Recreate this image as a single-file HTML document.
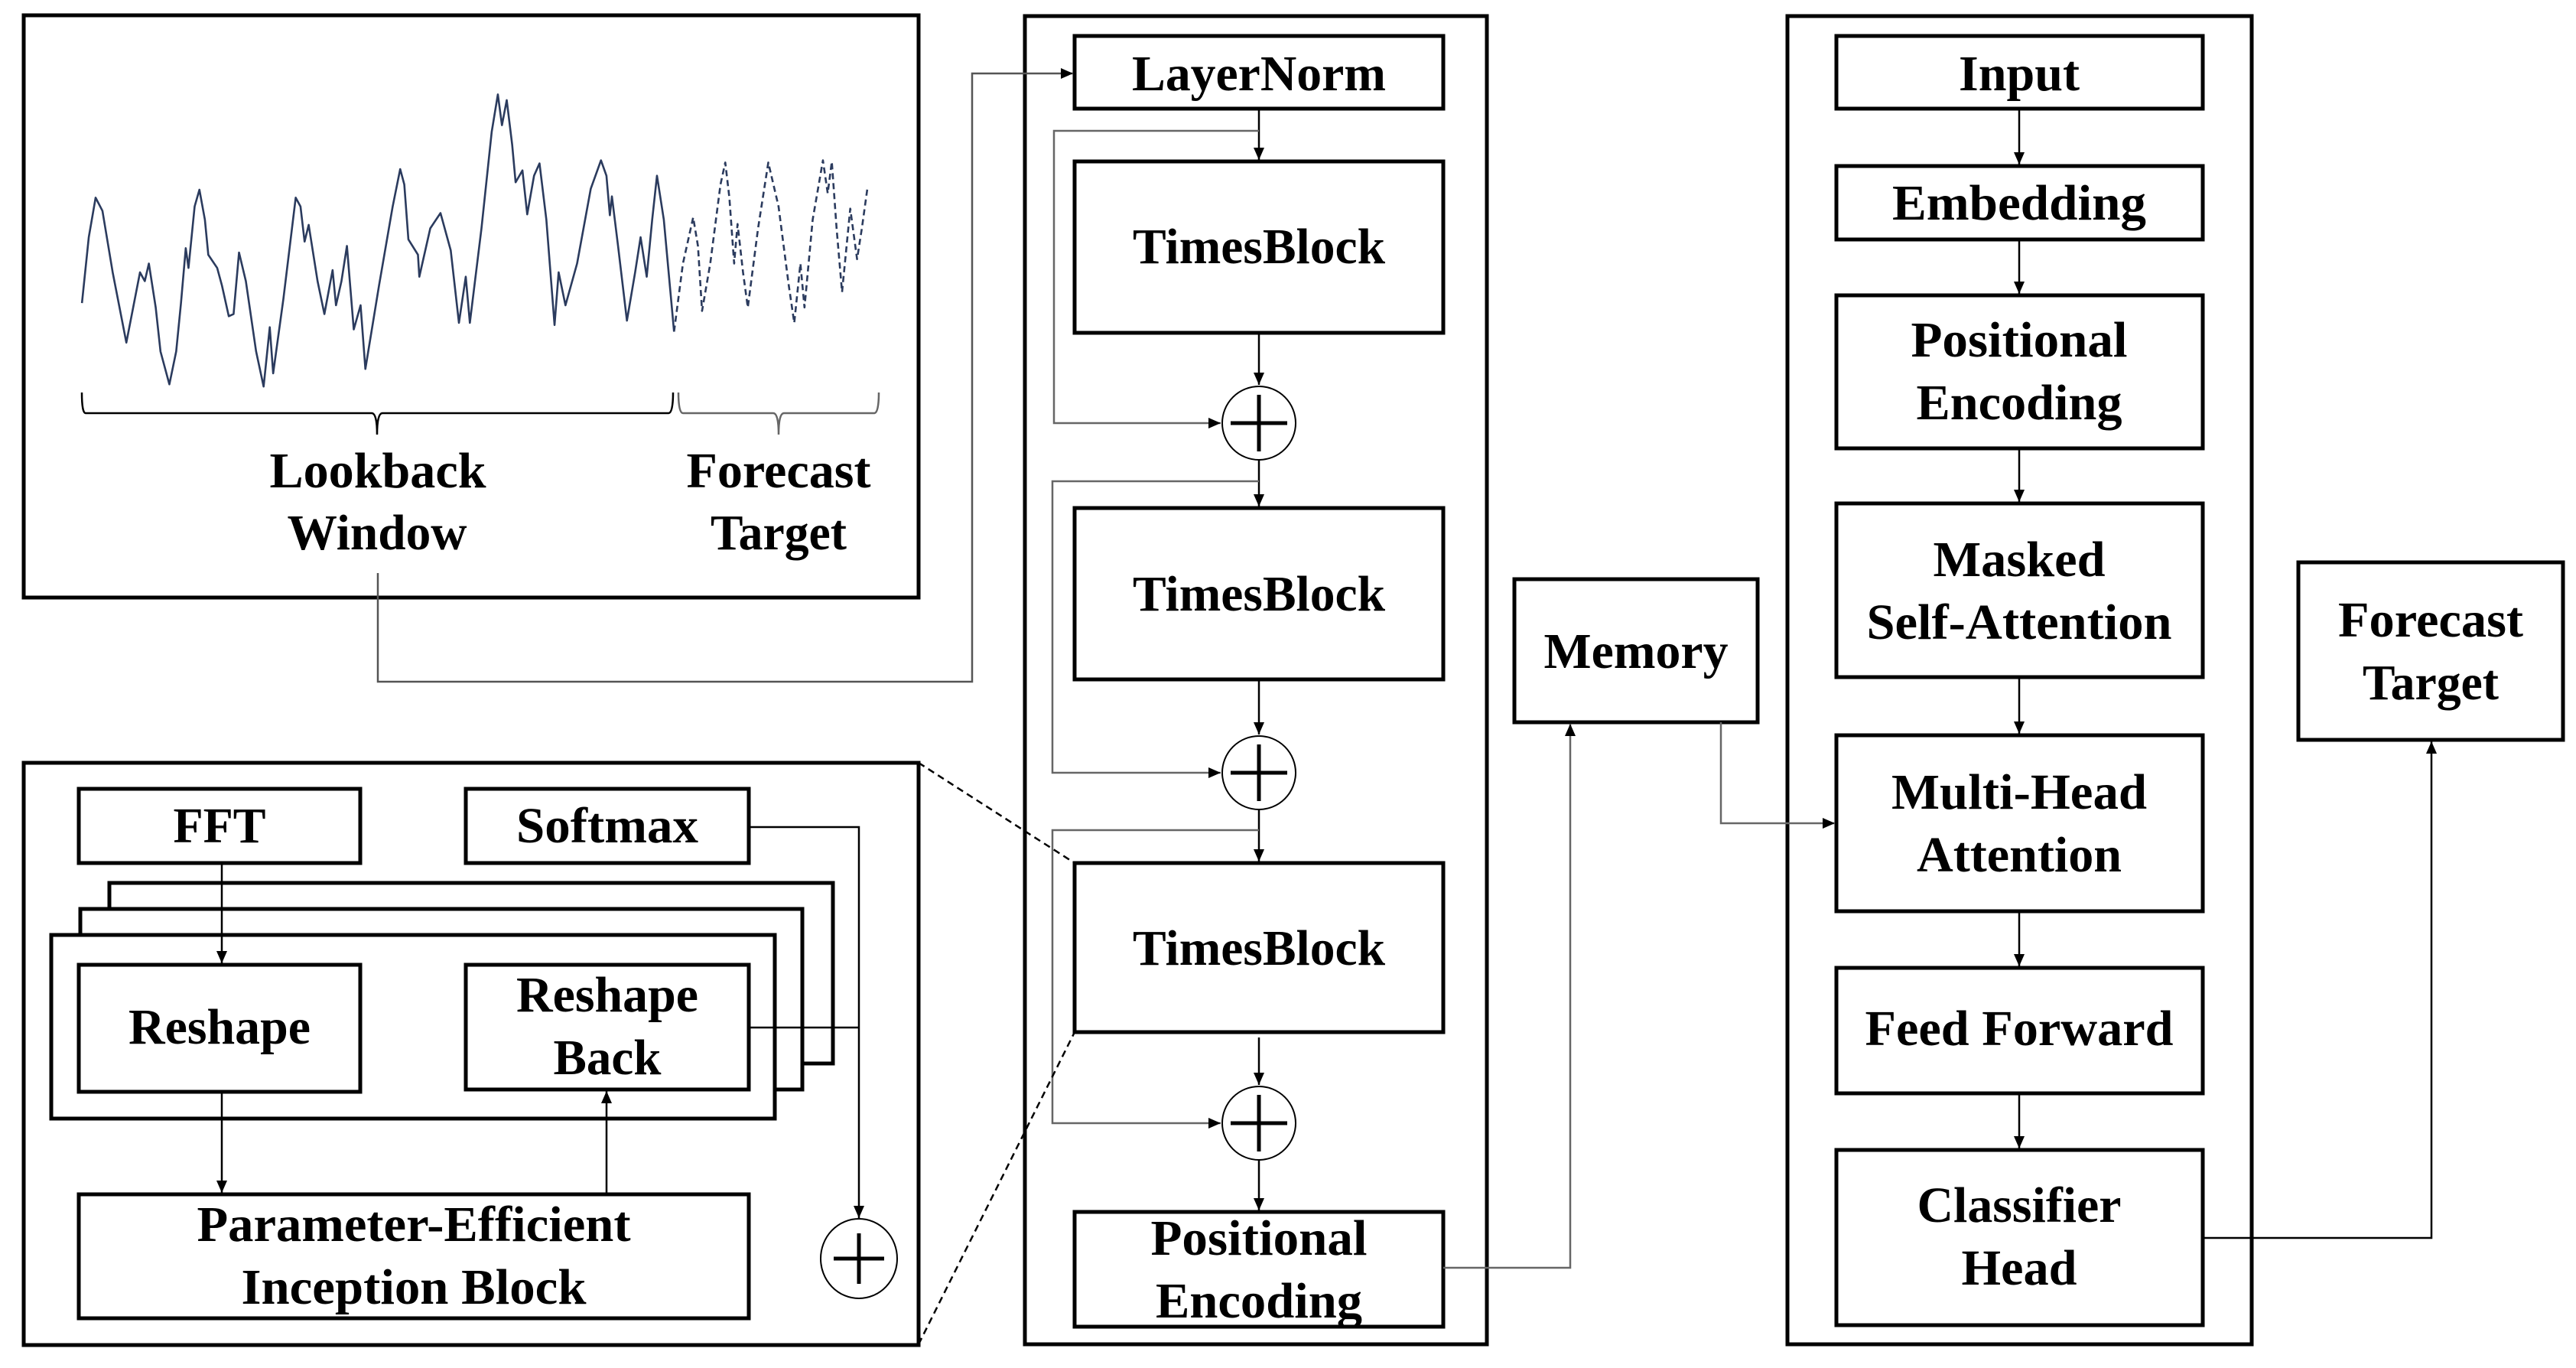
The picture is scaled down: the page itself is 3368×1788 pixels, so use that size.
<!DOCTYPE html>
<html><head><meta charset="utf-8"><style>
html,body{margin:0;padding:0;background:#fff;}
svg{display:block;}
text{font-family:"Liberation Serif","Times New Roman",serif;font-weight:bold;font-size:66px;fill:#000;text-anchor:middle;}
</style></head><body>
<svg width="3368" height="1788" viewBox="0 0 3368 1788" xmlns="http://www.w3.org/2000/svg">
<defs>
<marker id="a" markerUnits="userSpaceOnUse" markerWidth="18" markerHeight="16" refX="16" refY="7" orient="auto"><path d="M0,0 L16,7 L0,14 z" fill="#000"/></marker>
</defs>
<g fill="none" stroke="#000" stroke-width="5">
<!-- top-left box -->
<rect x="31" y="20" width="1170" height="761"/>
<!-- bottom-left box -->
<rect x="31" y="997" width="1170" height="761"/>
<!-- middle container -->
<rect x="1340" y="21" width="604" height="1736"/>
<!-- right container -->
<rect x="2337" y="21" width="607" height="1736"/>
<!-- middle boxes -->
<rect x="1405" y="47" width="482" height="95"/>
<rect x="1405" y="211" width="482" height="224"/>
<rect x="1405" y="664" width="482" height="224"/>
<rect x="1405" y="1128" width="482" height="221"/>
<rect x="1405" y="1584" width="482" height="150"/>
<rect x="1980" y="757" width="318" height="187"/>
<!-- right boxes -->
<rect x="2401" y="47" width="479" height="95"/>
<rect x="2401" y="217" width="479" height="96"/>
<rect x="2401" y="386" width="479" height="200"/>
<rect x="2401" y="658" width="479" height="227"/>
<rect x="2401" y="961" width="479" height="230"/>
<rect x="2401" y="1265" width="479" height="164"/>
<rect x="2401" y="1503" width="479" height="229"/>
<rect x="3005" y="735" width="346" height="232"/>
<!-- bottom-left internals -->
<rect x="103" y="1031" width="368" height="97"/>
<rect x="609" y="1031" width="370" height="97"/>
<rect x="143" y="1154" width="946" height="236" fill="#fff"/>
<rect x="105" y="1188" width="944" height="236" fill="#fff"/>
<rect x="67" y="1222" width="946" height="240" fill="#fff"/>
<rect x="103" y="1261" width="368" height="166"/>
<rect x="609" y="1261" width="370" height="163"/>
<rect x="103" y="1561" width="876" height="162"/>
</g>

<!-- waveform -->
<g transform="scale(0.8929,0.5741)" fill="none" stroke="#2b3b5e" stroke-width="2.6" vector-effect="non-scaling-stroke" stroke-linejoin="round">
<polyline vector-effect="non-scaling-stroke" points="120,690 130,540 140,450 150,480 165,620 185,780 195,700 205,620 212,640 218,600 228,700 235,800 248,875 258,800 265,690 272,565 276,610 285,470 292,432 300,500 305,580 318,610 325,650 335,720 342,715 350,575 360,640 375,800 386,880 395,745 400,850 415,680 433,450 440,470 446,550 452,512 465,640 475,715 487,615 492,695 500,640 508,560 518,750 528,695 535,840 555,650 575,470 586,385 592,420 598,545 612,580 614,630 630,520 645,485 660,570 672,735 682,630 688,735 705,520 720,300 729,215 735,285 742,228 750,330 755,415 765,388 772,488 782,400 790,372 800,500 812,740 818,620 828,695 845,600 865,430 880,365 888,400 893,490 896,447 905,560 918,730 930,620 938,540 947,630 955,500 962,400 972,500 987,755"/>
<polyline vector-effect="non-scaling-stroke" stroke-dasharray="8,5" points="987,755 1000,600 1015,495 1022,560 1028,708 1040,600 1055,420 1062,370 1068,450 1075,600 1080,510 1088,620 1095,700 1110,520 1125,370 1140,470 1155,650 1163,735 1172,600 1178,700 1190,500 1205,365 1212,440 1218,368 1225,520 1233,665 1245,475 1255,590 1262,520 1270,430"/>
</g>
<!-- braces -->
<g fill="none" stroke-width="2.5">
<path d="M107,513 Q107,540 112,540 L486,540 Q493,540 493,568 Q493,540 500,540 L874,540 Q880,540 880,513" stroke="#000"/>
<path d="M887,513 Q887,540 893,540 L1011,540 Q1018,540 1018,568 Q1018,540 1025,540 L1143,540 Q1149,540 1149,513" stroke="#666"/>
</g>

<!-- connectors -->
<g fill="none" stroke-width="2.5">
<polyline points="494,749 494,891 1271,891 1271,96 1403,96" stroke="#555" marker-end="url(#a)"/>
<line x1="1646" y1="142" x2="1646" y2="209" stroke="#000" marker-end="url(#a)"/>
<line x1="1646" y1="435" x2="1646" y2="503" stroke="#000" marker-end="url(#a)"/>
<line x1="1646" y1="601" x2="1646" y2="662" stroke="#000" marker-end="url(#a)"/>
<line x1="1646" y1="888" x2="1646" y2="960" stroke="#000" marker-end="url(#a)"/>
<line x1="1646" y1="1058" x2="1646" y2="1126" stroke="#000" marker-end="url(#a)"/>
<line x1="1646" y1="1356" x2="1646" y2="1418" stroke="#000" marker-end="url(#a)"/>
<line x1="1646" y1="1516" x2="1646" y2="1582" stroke="#000" marker-end="url(#a)"/>
<polyline points="1646,171 1378,171 1378,553 1596,553" stroke="#666" marker-end="url(#a)"/>
<polyline points="1646,629 1376,629 1376,1010 1596,1010" stroke="#666" marker-end="url(#a)"/>
<polyline points="1646,1085 1376,1085 1376,1468 1596,1468" stroke="#666" marker-end="url(#a)"/>
<polyline points="1887,1657 2053,1657 2053,946" stroke="#666" marker-end="url(#a)"/>
<polyline points="2250,944 2250,1076 2399,1076" stroke="#666" marker-end="url(#a)"/>
<line x1="2640" y1="142" x2="2640" y2="215" stroke="#000" marker-end="url(#a)"/>
<line x1="2640" y1="313" x2="2640" y2="384" stroke="#000" marker-end="url(#a)"/>
<line x1="2640" y1="586" x2="2640" y2="656" stroke="#000" marker-end="url(#a)"/>
<line x1="2640" y1="885" x2="2640" y2="959" stroke="#000" marker-end="url(#a)"/>
<line x1="2640" y1="1191" x2="2640" y2="1263" stroke="#000" marker-end="url(#a)"/>
<line x1="2640" y1="1429" x2="2640" y2="1501" stroke="#000" marker-end="url(#a)"/>
<polyline points="2880,1618 3179,1618 3179,969" stroke="#000" marker-end="url(#a)"/>
<line x1="290" y1="1128" x2="290" y2="1259" stroke="#000" marker-end="url(#a)"/>
<line x1="290" y1="1427" x2="290" y2="1559" stroke="#000" marker-end="url(#a)"/>
<line x1="793" y1="1561" x2="793" y2="1426" stroke="#000" marker-end="url(#a)"/>
<polyline points="979,1081 1123,1081 1123,1592" stroke="#000" marker-end="url(#a)"/>
<line x1="979" y1="1343" x2="1123" y2="1343" stroke="#000"/>
<line x1="1201" y1="997" x2="1405" y2="1128" stroke="#000" stroke-dasharray="9,6"/>
<line x1="1201" y1="1757" x2="1405" y2="1349" stroke="#000" stroke-dasharray="9,6"/>
</g>

<!-- circles -->
<g fill="#fff" stroke="#000">
<circle cx="1646" cy="553" r="48" stroke-width="2"/>
<circle cx="1646" cy="1010" r="48" stroke-width="2"/>
<circle cx="1646" cy="1468" r="48" stroke-width="2"/>
<ellipse cx="1123" cy="1645" rx="50" ry="52" stroke-width="2"/>
</g>
<g stroke="#000" stroke-width="5">
<path d="M1609,553 H1683 M1646,516 V590"/>
<path d="M1609,1010 H1683 M1646,973 V1047"/>
<path d="M1609,1468 H1683 M1646,1431 V1505"/>
<path d="M1090,1645 H1156 M1123,1612 V1678"/>
</g>

<!-- texts -->
<g lengthAdjust="spacingAndGlyphs">
<text x="494" y="637" textLength="283" lengthAdjust="spacingAndGlyphs">Lookback</text>
<text x="493" y="718" textLength="235" lengthAdjust="spacingAndGlyphs">Window</text>
<text x="1018" y="637" textLength="241" lengthAdjust="spacingAndGlyphs">Forecast</text>
<text x="1018" y="718" textLength="178" lengthAdjust="spacingAndGlyphs">Target</text>

<text x="1646" y="118" textLength="332" lengthAdjust="spacingAndGlyphs">LayerNorm</text>
<text x="1646" y="344" textLength="330" lengthAdjust="spacingAndGlyphs">TimesBlock</text>
<text x="1646" y="798" textLength="330" lengthAdjust="spacingAndGlyphs">TimesBlock</text>
<text x="1646" y="1261" textLength="330" lengthAdjust="spacingAndGlyphs">TimesBlock</text>
<text x="1646" y="1640" textLength="283" lengthAdjust="spacingAndGlyphs">Positional</text>
<text x="1646" y="1722" textLength="270" lengthAdjust="spacingAndGlyphs">Encoding</text>
<text x="2139" y="873" textLength="241" lengthAdjust="spacingAndGlyphs">Memory</text>

<text x="2640" y="118" textLength="158" lengthAdjust="spacingAndGlyphs">Input</text>
<text x="2640" y="287" textLength="332" lengthAdjust="spacingAndGlyphs">Embedding</text>
<text x="2640" y="466" textLength="283" lengthAdjust="spacingAndGlyphs">Positional</text>
<text x="2640" y="548" textLength="269" lengthAdjust="spacingAndGlyphs">Encoding</text>
<text x="2640" y="753" textLength="225" lengthAdjust="spacingAndGlyphs">Masked</text>
<text x="2640" y="835" textLength="399" lengthAdjust="spacingAndGlyphs">Self-Attention</text>
<text x="2640" y="1057" textLength="334" lengthAdjust="spacingAndGlyphs">Multi-Head</text>
<text x="2640" y="1139" textLength="268" lengthAdjust="spacingAndGlyphs">Attention</text>
<text x="2640" y="1366" textLength="403" lengthAdjust="spacingAndGlyphs">Feed Forward</text>
<text x="2640" y="1597" textLength="267" lengthAdjust="spacingAndGlyphs">Classifier</text>
<text x="2640" y="1679" textLength="151" lengthAdjust="spacingAndGlyphs">Head</text>
<text x="3178" y="832" textLength="242" lengthAdjust="spacingAndGlyphs">Forecast</text>
<text x="3178" y="914" textLength="178" lengthAdjust="spacingAndGlyphs">Target</text>

<text x="287" y="1101" textLength="121" lengthAdjust="spacingAndGlyphs">FFT</text>
<text x="794" y="1101" textLength="238" lengthAdjust="spacingAndGlyphs">Softmax</text>
<text x="287" y="1364" textLength="238" lengthAdjust="spacingAndGlyphs">Reshape</text>
<text x="794" y="1322" textLength="238" lengthAdjust="spacingAndGlyphs">Reshape</text>
<text x="794" y="1404" textLength="141" lengthAdjust="spacingAndGlyphs">Back</text>
<text x="541" y="1622" textLength="567" lengthAdjust="spacingAndGlyphs">Parameter-Efficient</text>
<text x="541" y="1704" textLength="451" lengthAdjust="spacingAndGlyphs">Inception Block</text>
</g>
</svg>
</body></html>
